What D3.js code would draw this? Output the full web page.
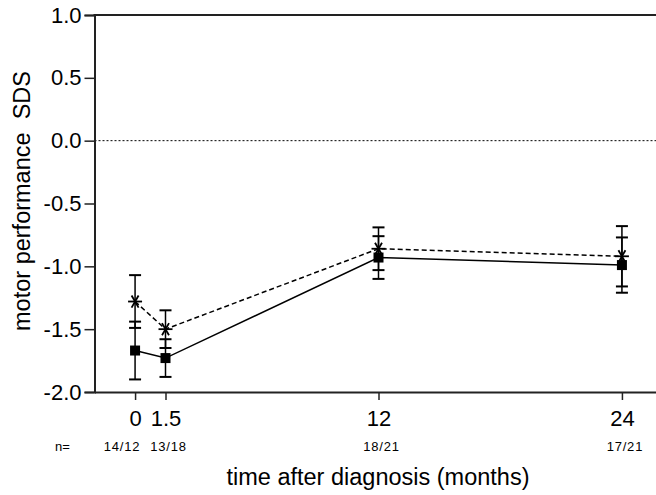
<!DOCTYPE html>
<html>
<head>
<meta charset="utf-8">
<script src="https://cdn.jsdelivr.net/npm/d3@7"></script>
<style>
  html, body { margin: 0; padding: 0; background: #fff; }
  svg { display: block; font-family: "Liberation Sans", Arial, sans-serif; }
</style>
</head>
<body>
<div id="chart"></div>
<script>
// months after diagnosis
const months = [0, 1.5, 12, 24];
const month_labels = ['0', '1.5', '12', '24'];
const n_labels = ['14/12', '13/18', '18/21', '17/21'];

// solid line, square markers
const square_mean = [-1.67, -1.73, -0.93, -0.99];
const square_se = [0.23, 0.15, 0.17, 0.22];

// dashed line, asterisk markers
const star_mean = [-1.28, -1.50, -0.86, -0.92];
const star_se = [0.21, 0.15, 0.17, 0.24];

const y_ticks = [1.0, 0.5, 0.0, -0.5, -1.0, -1.5, -2.0];

const width = 656, height = 495;

const svg = d3.select('#chart')
    .append('svg')
    .attr('width', width)
    .attr('height', height);

const x = d3.scaleLinear().domain([-2, 26]).range([94.5, 662.5]);
const y = d3.scaleLinear().domain([-2, 1]).range([392, 15]);

// zero reference line
svg.append('line')
    .attr('x1', x(-2)).attr('x2', width)
    .attr('y1', y(0)).attr('y2', y(0))
    .attr('stroke', '#000')
    .attr('stroke-width', 1)
    .attr('stroke-dasharray', '2,2');

// y axis
const y_axis = svg.append('g')
    .attr('transform', 'translate(' + x(-2) + ',0)')
    .call(d3.axisLeft(y).tickValues(y_ticks).tickFormat(d3.format('.1f')).tickSize(10).tickPadding(3));
y_axis.select('.domain').attr('stroke', '#222').attr('stroke-width', 2);
y_axis.selectAll('.tick line').attr('stroke', '#222').attr('stroke-width', 1.5);
y_axis.selectAll('.tick text')
    .attr('font-size', '22px')
    .attr('fill', '#000')
    .text(d => d3.format('.1f')(d).replace('−', '-'));

// x axis
const x_axis = svg.append('g')
    .attr('transform', 'translate(0,' + y(-2) + ')')
    .call(d3.axisBottom(x).tickValues(months).tickFormat((d, i) => month_labels[i]).tickSize(8).tickPadding(10).tickSizeOuter(0));
x_axis.select('.domain').attr('stroke', '#222').attr('stroke-width', 2);
x_axis.selectAll('.tick line').attr('stroke', '#222').attr('stroke-width', 1.5);
x_axis.selectAll('.tick text').attr('font-size', '22px').attr('fill', '#000');

// top frame line
svg.append('line')
    .attr('x1', x(-2) - 1).attr('x2', width)
    .attr('y1', y(1)).attr('y2', y(1))
    .attr('stroke', '#222')
    .attr('stroke-width', 2);

// n labels
svg.append('text')
    .attr('x', 55).attr('y', 451)
    .attr('font-size', '13px')
    .text('n=');
svg.selectAll('.nlab')
    .data(months)
    .enter().append('text')
    .attr('class', 'nlab')
    .attr('x', (d, i) => x(d) + (i === 0 ? -13 : 3))
    .attr('y', 451)
    .attr('text-anchor', 'middle')
    .attr('font-size', '13px')
    .attr('letter-spacing', '0.8px')
    .text((d, i) => n_labels[i]);

// axis titles
svg.append('text')
    .attr('x', 378).attr('y', 485)
    .attr('text-anchor', 'middle')
    .attr('font-size', '23.5px')
    .text('time after diagnosis (months)');

svg.append('text')
    .attr('transform', 'translate(30,' + 201 + ') rotate(-90)')
    .attr('text-anchor', 'middle')
    .attr('font-size', '23.5px')
    .attr('xml:space', 'preserve')
    .style('white-space', 'pre')
    .text('motor performance  SDS');

function draw_series(mean, se, dashed, marker) {
    const g = svg.append('g');
    const pts = months.map((m, i) => ({ m: m, v: mean[i], e: se[i] }));

    g.append('path')
        .datum(pts)
        .attr('fill', 'none')
        .attr('stroke', '#000')
        .attr('stroke-width', 1.5)
        .attr('stroke-dasharray', dashed ? '5,3' : null)
        .attr('d', d3.line().x(d => x(d.m)).y(d => y(d.v)));

    const bars = g.selectAll('.err').data(pts).enter().append('g');
    bars.append('line')
        .attr('x1', d => x(d.m)).attr('x2', d => x(d.m))
        .attr('y1', d => y(d.v - d.e)).attr('y2', d => y(d.v + d.e))
        .attr('stroke', '#000').attr('stroke-width', 1.5);
    [1, -1].forEach(s => {
        bars.append('line')
            .attr('x1', d => x(d.m) - 6).attr('x2', d => x(d.m) + 6)
            .attr('y1', d => y(d.v + s * d.e)).attr('y2', d => y(d.v + s * d.e))
            .attr('stroke', '#000').attr('stroke-width', 2);
    });

    if (marker === 'square') {
        g.selectAll('.sq').data(pts).enter().append('rect')
            .attr('x', d => x(d.m) - 5).attr('y', d => y(d.v) - 5)
            .attr('width', 10).attr('height', 10)
            .attr('fill', '#000');
    } else {
        const star = g.selectAll('.st').data(pts).enter().append('g')
            .attr('transform', d => 'translate(' + x(d.m) + ',' + y(d.v) + ')');
        [0, 60, 120].forEach(a => {
            star.append('line')
                .attr('x1', -7).attr('x2', 7)
                .attr('y1', 0).attr('y2', 0)
                .attr('transform', 'rotate(' + a + ')')
                .attr('stroke', '#000').attr('stroke-width', 1.8);
        });
    }
}

draw_series(square_mean, square_se, false, 'square');
draw_series(star_mean, star_se, true, 'star');
</script>
</body>
</html>
